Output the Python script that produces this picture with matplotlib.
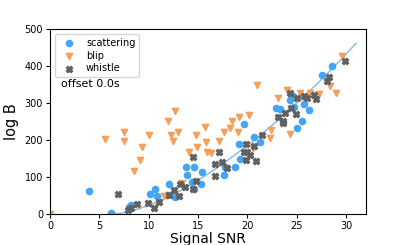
import numpy as np
import matplotlib
matplotlib.use('Agg')
import matplotlib.pyplot as plt

# scattering (blue circles)
scat_snr = [3.9, 6.2, 8.0, 8.2, 10.1, 10.6, 10.8, 11.8, 12.1, 12.7, 13.8, 14.6, 13.9, 14.4, 14.6, 15.4,
            15.3, 17.6, 17.7, 18.7, 19.1, 19.6, 19.25, 20.7, 21.3, 22.9, 23.3, 24.3, 24.6, 24.7,
            25.7, 26.2, 25.5, 25.0, 27.6, 28.6]
scat_logb = [62, 3, 19, 24, 54, 67, 48, 51, 82, 46, 127, 127, 105, 87, 66, 113,
             81, 105, 128, 126, 189, 244, 149, 209, 193, 286, 283, 308, 319, 289,
             296, 281, 250, 231, 375, 400]

# blip (orange down triangles)
blip_snr = [0.0, 5.6, 7.5, 7.5, 10.0, 9.35, 9.1, 8.5, 11.9, 12.7, 13.0, 12.3, 12.5, 11.5, 13.4,
            14.8, 14.86, 14.1, 15.7, 15.8, 15.9, 16.3, 17.15, 17.6, 18.2, 18.4, 19.0, 19.1,
            20.2, 20.6, 21.0, 22.3, 22.4, 23.1, 24.0, 24.3, 25.3, 26.3, 27.2, 28.4, 29.0, 29.55]
blip_logb = [0, 202, 221, 197, 212, 182, 146, 117, 251, 278, 222, 213, 197, 47, 83,
             213, 182, 168, 236, 195, 168, 164, 197, 222, 231, 251, 222, 263,
             268, 178, 349, 205, 227, 314, 334, 216, 328, 328, 324, 347, 326, 427]

# whistle (gray X)
whis_snr = [6.9, 7.9, 8.2, 8.8, 9.9, 10.5, 11.0, 12.1, 12.6, 13.1, 13.2, 13.7, 14.5, 14.8, 14.5,
            16.7, 16.7, 17.1, 17.4, 17.9, 19.65, 19.9, 20.0, 19.9, 20.3, 20.9, 20.7, 21.45,
            23.1, 23.6, 23.8, 23.6, 24.4, 24.9, 24.3, 25.0, 25.7, 26.0, 26.7, 26.95, 28.1, 28.3, 29.9]
whis_logb = [55, 11, 15, 27, 30, 15, 33, 51, 65, 49, 81, 74, 155, 90, 68,
             103, 136, 166, 140, 124, 168, 189, 168, 146, 158, 143, 184, 214,
             263, 250, 272, 245, 286, 269, 326, 313, 318, 313, 322, 311, 358, 371, 414]

# fitted trend
fit_snr = [6.0, 7, 8, 9, 10, 11, 12, 13, 14, 15, 16, 17, 18, 19, 20, 21, 22, 23, 24, 25, 26, 27, 28, 29, 30, 31]
fit_logb = [0, 1, 6, 14, 23, 34, 47, 60, 75, 91, 108, 126, 145, 165, 185, 206, 228, 251, 275,
            300, 325, 350, 377, 404, 432, 461]

fig = plt.figure(figsize=(4.07, 2.45), dpi=100)
ax = fig.add_axes([0.123, 0.127, 0.776, 0.755])

ax.plot(fit_snr, fit_logb, color='#8fbde0', lw=1.1, zorder=1)
ax.scatter(scat_snr, scat_logb, s=20, marker='o', color='#42a5f5', label='scattering', zorder=2)
ax.scatter(blip_snr, blip_logb, s=20, marker='v', color='#f5a05a', label='blip', zorder=2)
ax.scatter(whis_snr, whis_logb, s=20, marker='X', color='#606060', label='whistle', zorder=3)

ax.set_xlim(0, 32)
ax.set_ylim(0, 500)
ax.set_xticks([0, 5, 10, 15, 20, 25, 30])
ax.set_yticks([0, 100, 200, 300, 400, 500])
ax.tick_params(labelsize=7, length=3, pad=2)
ax.set_xlabel('Signal SNR', fontsize=10, labelpad=0.5)
ax.set_ylabel('log B', fontsize=10.5, labelpad=4)

ax.legend(loc='upper left', fontsize=7, handletextpad=0.8, borderpad=0.4, labelspacing=0.3)
ax.text(0.035, 0.70, 'offset 0.0s', transform=ax.transAxes, fontsize=8, va='center')

fig.savefig('out.png', dpi=100)
